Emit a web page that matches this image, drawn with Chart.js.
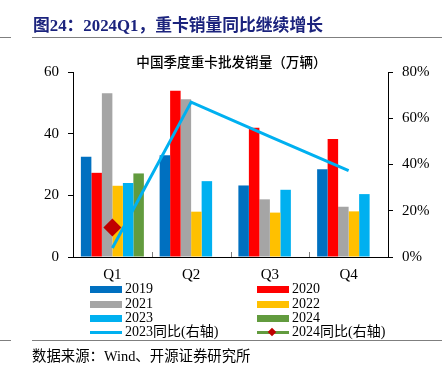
<!DOCTYPE html>
<html>
<head>
<meta charset="utf-8">
<script src="https://cdn.jsdelivr.net/npm/chart.js@4/dist/chart.umd.min.js"></script>
<style>
  html,body{margin:0;padding:0;background:#fff;}
  #wrap{position:relative;width:442px;height:372px;overflow:hidden;}
  #c{position:absolute;left:0;top:0;}
  .hl{position:absolute;height:0;border-top:1.5px solid #7f7f7f;}
  #title{position:absolute;left:33px;top:12px;font:bold 16.8px "Liberation Serif","Noto Sans CJK SC",serif;color:#1b237d;white-space:nowrap;}
  #ctitle{position:absolute;left:0;width:463px;text-align:center;top:51px;font:500 13.6px "Noto Sans CJK SC",sans-serif;color:#000;white-space:nowrap;}
  #src{position:absolute;left:32px;top:344px;font:14.4px "Liberation Serif","Noto Sans CJK SC",serif;color:#000;white-space:nowrap;}
  .lg{position:absolute;font:14px "Liberation Serif","Noto Sans CJK SC",serif;color:#000;white-space:nowrap;line-height:14px;}
  .sw{position:absolute;}
</style>
</head>
<body>
<div id="wrap">
  <canvas id="c" width="442" height="372"></canvas>
  <div id="title">图24：2024Q1，重卡销量同比继续增长</div>
  <div class="hl" style="left:0;width:11px;top:37px;"></div>
  <div class="hl" style="left:32px;width:410px;top:37px;"></div>
  <div id="ctitle">中国季度重卡批发销量（万辆）</div>
  <div id="legend"></div>
  <div class="hl" style="left:0;width:11px;top:340px;"></div>
  <div class="hl" style="left:32px;width:410px;top:340px;"></div>
  <div id="src">数据来源：Wind、开源证券研究所</div>
</div>
<script>
// ---- data ----
const categories = ['Q1', 'Q2', 'Q3', 'Q4'];
const seriesNames = ['2019', '2020', '2021', '2022', '2023', '2024', '2023同比(右轴)', '2024同比(右轴)'];
const sales2019 = [32.5, 33.0, 23.2, 28.5];
const sales2020 = [27.3, 53.9, 41.9, 38.3];
const sales2021 = [53.1, 51.2, 18.7, 16.3];
const sales2022 = [23.1, 14.7, 14.4, 14.8];
const sales2023 = [24.0, 24.6, 21.8, 20.4];
const sales2024 = [27.1, null, null, null];
const yoy2023 = [3.9, 67.0, 52.1, 37.3];
const yoy2024 = [12.8, null, null, null];
const leftTicks = [0, 20, 40, 60];
const rightTicks = [0, 20, 40, 60, 80];

const colors = ['#0070C0', '#FF0000', '#A5A5A5', '#FFC000', '#00B0F0', '#629B3E', '#00B0F0', '#629B3E'];
const barData = [sales2019, sales2020, sales2021, sales2022, sales2023, sales2024];

const datasets = barData.map((d, i) => ({
  type: 'bar', label: seriesNames[i], data: d, backgroundColor: colors[i],
  yAxisID: 'y', order: 2, categoryPercentage: 0.8, barPercentage: 1.0
}));
datasets.push({
  type: 'line', label: seriesNames[6], data: yoy2023, borderColor: colors[6], borderWidth: 3,
  pointRadius: 0, tension: 0, yAxisID: 'y1', order: 1
});
datasets.push({
  type: 'line', label: seriesNames[7], data: yoy2024, borderColor: colors[7], borderWidth: 3,
  pointStyle: 'rectRot', pointRadius: 9, pointBackgroundColor: '#C00000', pointBorderWidth: 0,
  yAxisID: 'y1', order: 0
});

const F = {family: '"Liberation Serif", serif', size: 15};

const innerTicks = {
  id: 'innerTicks',
  afterDatasetsDraw(chart) {
    const x = chart.scales.x, ctx = chart.ctx, b = chart.chartArea.bottom;
    ctx.save();
    ctx.strokeStyle = '#808080'; ctx.lineWidth = 1;
    for (let i = 0; i < categories.length - 1; i++) {
      const px = Math.round((x.getPixelForTick(i) + x.getPixelForTick(i + 1)) / 2) + 0.5;
      ctx.beginPath(); ctx.moveTo(px, b); ctx.lineTo(px, b - 5); ctx.stroke();
    }
    ctx.restore();
  }
};

const chart = new Chart(document.getElementById('c'), {
  data: {labels: categories, datasets},
  options: {
    responsive: false, animation: false,
    layout: {padding: {top: 72, left: 0, right: 0, bottom: 0}},
    plugins: {legend: {display: false}, title: {display: false}, tooltip: {enabled: false}},
    scales: {
      x: {
        grid: {display: false},
        border: {display: true, color: '#000', width: 1},
        ticks: {font: F, color: '#000', padding: 1},
        afterFit(s) { s.height = 372 - 257; }
      },
      y: {
        position: 'left', min: 0, max: 60,
        afterBuildTicks(s) { s.ticks = leftTicks.map(v => ({value: v})); },
        grid: {drawOnChartArea: false, tickLength: 5, color: '#000'},
        border: {display: true, color: '#000', width: 1},
        ticks: {font: F, color: '#000', padding: 9},
        afterFit(s) { s.width = 73; }
      },
      y1: {
        position: 'right', min: 0, max: 80,
        afterBuildTicks(s) { s.ticks = rightTicks.map(v => ({value: v})); },
        grid: {drawOnChartArea: false, tickLength: 5, color: '#000'},
        border: {display: true, color: '#000', width: 1},
        ticks: {font: F, color: '#000', padding: 9, callback: v => v + '%'},
        afterFit(s) { s.width = 442 - 388; }
      }
    }
  },
  plugins: [innerTicks]
});

// ---- HTML legend (two columns) ----
const lg = document.getElementById('legend');
const colX = [90, 257];
const rowY = [289, 304, 318, 332];
seriesNames.forEach((name, i) => {
  const col = i % 2, row = Math.floor(i / 2);
  const x = colX[col], y = rowY[row];
  const sw = document.createElement('div');
  sw.className = 'sw';
  if (i < 6) {
    Object.assign(sw.style, {left: x + 'px', top: (y - 3) + 'px', width: '32px', height: '7px', background: colors[i]});
  } else {
    Object.assign(sw.style, {left: x + 'px', top: (y - 1) + 'px', width: '32px', height: '3px', background: colors[i]});
  }
  lg.appendChild(sw);
  if (i === 7) {
    const d = document.createElement('div');
    Object.assign(d.style, {position: 'absolute', left: (x + 12) + 'px', top: (y - 3.5) + 'px', width: '6px', height: '6px', background: '#C00000', transform: 'rotate(45deg)'});
    lg.appendChild(d);
  }
  const t = document.createElement('div');
  t.className = 'lg';
  t.textContent = name;
  Object.assign(t.style, {left: (x + 35) + 'px', top: (y - 7) + 'px'});
  lg.appendChild(t);
});
</script>
</body>
</html>
